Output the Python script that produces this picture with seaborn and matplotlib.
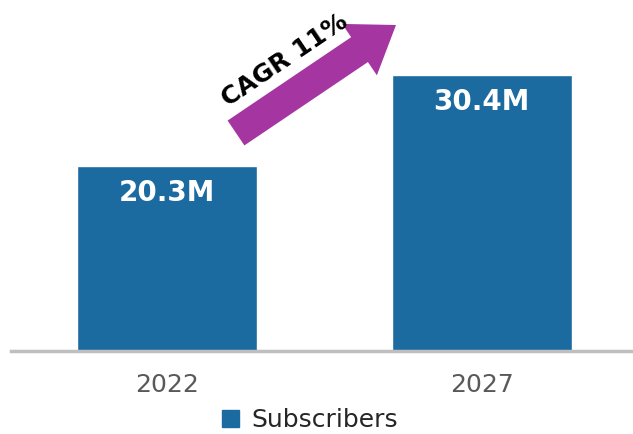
import matplotlib
matplotlib.use('Agg')
import matplotlib.pyplot as plt
import seaborn as sns
from matplotlib.patches import FancyArrow, Patch

years = ['2022', '2027']
subscribers = [20.3, 30.4]
value_labels = ['20.3M', '30.4M']
series_name = 'Subscribers'
cagr_text = 'CAGR 11%'

bar_color = '#1b6aa0'
arrow_color = '#a535a0'

sns.set_style('white')
plt.rcParams['font.family'] = ['DejaVu Sans']

fig = plt.figure(figsize=(6.33, 4.34), dpi=100)
ax = fig.add_axes([11 / 633, 83 / 434, 1 - 11 / 633, 351 / 434])

sns.barplot(x=years, y=subscribers, color=bar_color, width=0.571,
            saturation=1, ax=ax)
ax.set_xlim(-0.495, 1.48)
ax.set_ylim(0, 38.6)

# value labels inside the bars
for i, (v, lab) in enumerate(zip(subscribers, value_labels)):
    ax.annotate(lab, xy=(i, v), xytext=(0, -27), textcoords='offset pixels',
                ha='center', va='center', color='white',
                fontsize=20, fontweight='bold')

for s in ['top', 'left', 'right']:
    ax.spines[s].set_visible(False)
ax.spines['bottom'].set_color('#bfbfbf')
ax.spines['bottom'].set_linewidth(2.5)
ax.set_yticks([])
ax.tick_params(axis='x', length=0, pad=16, labelsize=18, labelcolor='#595959')
ax.set_xlabel('')
ax.set_ylabel('')

# legend at the bottom
handle = Patch(facecolor=bar_color, edgecolor=bar_color)
fig.legend([handle], [series_name], loc='center', bbox_to_anchor=(0.49, 14 / 434),
           frameon=False, fontsize=18, handlelength=0.7, handleheight=0.7,
           handletextpad=0.5, labelcolor='#262626', borderaxespad=0)

# CAGR arrow drawn in a pixel-space overlay
over = fig.add_axes([0, 0, 1, 1])
over.set_xlim(0, 633)
over.set_ylim(434, 0)
over.axis('off')
over.patch.set_alpha(0)
arr = FancyArrow(236, 133, 160, -108, width=30, head_width=62, head_length=44,
                 length_includes_head=True, color=arrow_color, lw=0)
over.add_patch(arr)
over.text(285, 60, cagr_text, rotation=34, ha='center', va='center',
          fontsize=18, fontweight='bold', color='black',
          rotation_mode='anchor')

fig.savefig('out.png', dpi=100)
